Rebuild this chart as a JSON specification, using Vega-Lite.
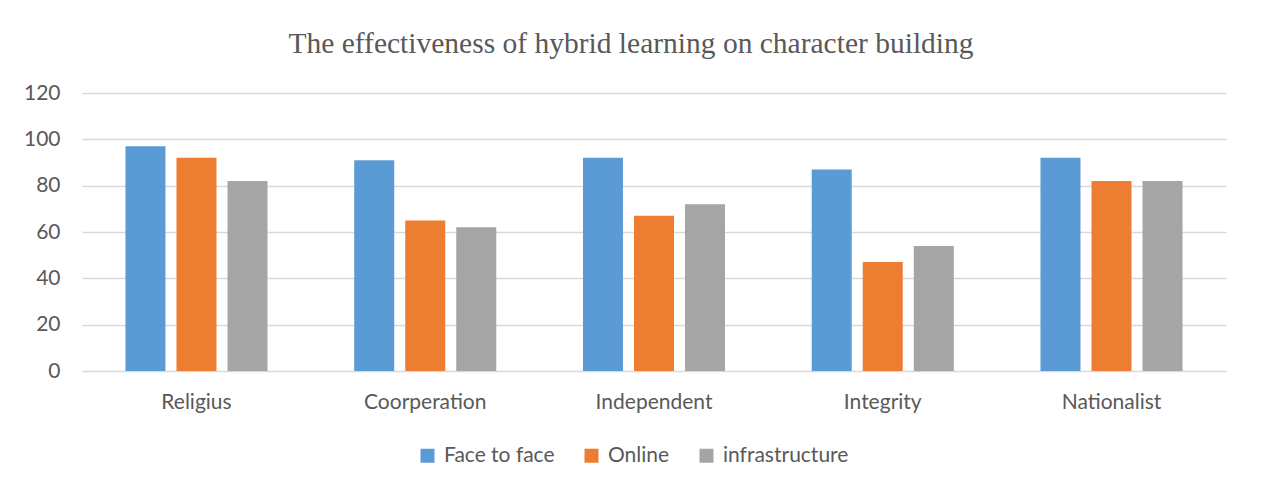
{
  "$schema": "https://vega.github.io/schema/vega-lite/v6.json",
  "autosize": {"type": "none"},
  "width": 1144,
  "height": 278,
  "padding": {"left": 82, "top": 93, "right": 35, "bottom": 117},
  "background": "white",
  "title": {
    "text": "The effectiveness of hybrid learning on character building",
    "font": "Liberation Serif",
    "fontSize": 29.5,
    "fontWeight": "normal",
    "color": "#595959",
    "anchor": "middle",
    "frame": "group",
    "offset": 23,
    "dx": -23
  },
  "data": {
    "values": [
      {"category": "Religius", "series": "Face to face", "value": 97},
      {"category": "Religius", "series": "Online", "value": 92},
      {"category": "Religius", "series": "infrastructure", "value": 82},
      {"category": "Coorperation", "series": "Face to face", "value": 91},
      {"category": "Coorperation", "series": "Online", "value": 65},
      {"category": "Coorperation", "series": "infrastructure", "value": 62},
      {"category": "Independent", "series": "Face to face", "value": 92},
      {"category": "Independent", "series": "Online", "value": 67},
      {"category": "Independent", "series": "infrastructure", "value": 72},
      {"category": "Integrity", "series": "Face to face", "value": 87},
      {"category": "Integrity", "series": "Online", "value": 47},
      {"category": "Integrity", "series": "infrastructure", "value": 54},
      {"category": "Nationalist", "series": "Face to face", "value": 92},
      {"category": "Nationalist", "series": "Online", "value": 82},
      {"category": "Nationalist", "series": "infrastructure", "value": 82}
    ]
  },
  "mark": {"type": "bar"},
  "encoding": {
    "x": {
      "field": "category",
      "type": "nominal",
      "sort": ["Religius", "Coorperation", "Independent", "Integrity", "Nationalist"],
      "scale": {"paddingInner": 0.379, "paddingOuter": 0.19},
      "axis": {
        "title": null,
        "labelAngle": 0,
        "domain": false,
        "ticks": false,
        "labelPadding": 20,
        "labelFont": "Lato",
        "labelFontSize": 21,
        "labelColor": "#595959"
      }
    },
    "xOffset": {
      "field": "series",
      "type": "nominal",
      "sort": ["Face to face", "Online", "infrastructure"],
      "scale": {"paddingInner": 0.216, "paddingOuter": 0}
    },
    "y": {
      "field": "value",
      "type": "quantitative",
      "scale": {"domain": [0, 120], "nice": false},
      "axis": {
        "title": null,
        "values": [0, 20, 40, 60, 80, 100, 120],
        "domain": false,
        "ticks": false,
        "labelPadding": 22,
        "labelFont": "Lato",
        "labelFontSize": 21,
        "labelColor": "#595959",
        "gridColor": "#D9D9D9",
        "gridWidth": 1.5
      }
    },
    "color": {
      "field": "series",
      "type": "nominal",
      "sort": ["Face to face", "Online", "infrastructure"],
      "scale": {
        "domain": ["Face to face", "Online", "infrastructure"],
        "range": ["#5B9BD5", "#ED7D31", "#A5A5A5"]
      },
      "legend": {
        "title": null,
        "orient": "none",
        "direction": "horizontal",
        "legendX": 335,
        "legendY": 352,
        "symbolType": "square",
        "symbolSize": 196,
        "symbolStrokeWidth": 0,
        "labelFont": "Lato",
        "labelFontSize": 21,
        "labelColor": "#595959",
        "labelOffset": 6,
        "columnPadding": 26
      }
    }
  },
  "config": {
    "view": {"stroke": null}
  }
}
